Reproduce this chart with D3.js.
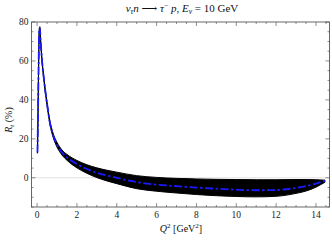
<!DOCTYPE html>
<html>
<head>
<meta charset="utf-8">
<script src="https://cdn.jsdelivr.net/npm/d3@7"></script>
<style>
  html, body { margin: 0; padding: 0; background: #fff; }
  svg { display: block; font-family: "Liberation Serif", "DejaVu Serif", serif; }
</style>
</head>
<body>
<div id="chart"></div>
<script>
// Q^2 points (GeV^2) and R_t (%)
const q2 = [0.02, 0.05, 0.08, 0.11, 0.14, 0.18, 0.25, 0.35, 0.5, 0.65, 0.8, 1.0, 1.25, 1.5, 2.0, 2.5, 3.0, 3.5, 4.0, 5.0, 6.0, 7.0, 8.0, 9.0, 10.0, 11.0, 12.0, 13.0, 13.5, 14.0, 14.45];
const rtCentral = [13, 35, 60, 76, 77, 70, 60, 50, 38, 28, 22, 17, 13, 10.5, 7, 4.5, 2.6, 1.2, 0, -2.2, -3.5, -4.3, -5.0, -5.6, -6.1, -6.4, -6.3, -5.2, -4.3, -3.0, -1.5];
const rtLow = [12.6, 34.4, 59.4, 75.4, 76.4, 69.3, 59.3, 49.2, 37.1, 27.1, 21.0, 15.8, 11.7, 9.0, 5.1, 2.3, 0.1, -1.6, -3.0, -5.6, -6.9, -7.8, -8.6, -9.2, -9.6, -9.8, -9.5, -8.0, -6.8, -4.8, -2.3];
const rtHigh = [13.4, 35.6, 60.6, 76.6, 77.6, 70.7, 60.7, 50.8, 38.9, 28.9, 23.0, 18.2, 14.3, 12.0, 8.9, 6.7, 5.1, 3.9, 2.9, 1.1, 0.2, -0.3, -0.6, -0.8, -0.9, -1.0, -1.0, -0.9, -0.9, -1.0, -1.2];

const xMajor = [0, 2, 4, 6, 8, 10, 12, 14];
const yMajor = [0, 20, 40, 60, 80];

const width = 332, height = 241;
const svg = d3.select('#chart')
    .append('svg')
    .attr('width', width)
    .attr('height', height);

const x = d3.scaleLinear().domain([-0.28, 14.68]).range([31.5, 329.5]);
const y = d3.scaleLinear().domain([-15, 80]).range([207, 22]);

const rows = q2.map((q, i) => ({ q, c: rtCentral[i], lo: rtLow[i], hi: rtHigh[i] }));

// zero grid line
svg.append('line')
    .attr('x1', x.range()[0]).attr('x2', x.range()[1])
    .attr('y1', y(0)).attr('y2', y(0))
    .attr('stroke', '#d9d9d9')
    .attr('stroke-width', 0.8);

svg.append('clipPath').attr('id', 'clip')
    .append('rect')
    .attr('x', x.range()[0]).attr('y', y.range()[1])
    .attr('width', x.range()[1] - x.range()[0])
    .attr('height', y.range()[0] - y.range()[1]);

const plot = svg.append('g').attr('clip-path', 'url(#clip)');

// uncertainty band
plot.append('path')
    .datum(rows)
    .attr('d', d3.area()
        .curve(d3.curveMonotoneX)
        .x(d => x(d.q))
        .y0(d => y(d.lo))
        .y1(d => y(d.hi)))
    .attr('fill', '#000')
    .attr('stroke', '#000')
    .attr('stroke-width', 1);

// central curve, dash-dot
plot.append('path')
    .datum(rows)
    .attr('d', d3.line()
        .curve(d3.curveMonotoneX)
        .x(d => x(d.q))
        .y(d => y(d.c)))
    .attr('fill', 'none')
    .attr('stroke', '#1a1aff')
    .attr('stroke-width', 1.8)
    .attr('stroke-dasharray', '8,2.5,2.5,2.5');

// frame
const frameColor = '#444';
svg.append('rect')
    .attr('x', x.range()[0]).attr('y', y.range()[1])
    .attr('width', x.range()[1] - x.range()[0])
    .attr('height', y.range()[0] - y.range()[1])
    .attr('fill', 'none')
    .attr('stroke', frameColor)
    .attr('stroke-width', 0.8);

// ticks on all four sides (inward)
const xMinor = d3.range(0, 14.6, 0.5).filter(v => !xMajor.includes(v));
const yMinor = d3.range(-15, 80.1, 5).filter(v => !yMajor.includes(v));
const ticks = svg.append('g').attr('stroke', frameColor).attr('stroke-width', 0.6);

[[xMajor, 4], [xMinor, 2]].forEach(([vals, len]) => {
    vals.forEach(v => {
        ticks.append('line').attr('x1', x(v)).attr('x2', x(v))
            .attr('y1', y.range()[0]).attr('y2', y.range()[0] - len);
        ticks.append('line').attr('x1', x(v)).attr('x2', x(v))
            .attr('y1', y.range()[1]).attr('y2', y.range()[1] + len);
    });
});
[[yMajor, 4], [yMinor, 2]].forEach(([vals, len]) => {
    vals.forEach(v => {
        ticks.append('line').attr('y1', y(v)).attr('y2', y(v))
            .attr('x1', x.range()[0]).attr('x2', x.range()[0] + len);
        ticks.append('line').attr('y1', y(v)).attr('y2', y(v))
            .attr('x1', x.range()[1]).attr('x2', x.range()[1] - len);
    });
});

// tick labels
svg.append('g').selectAll('text')
    .data(xMajor)
    .join('text')
    .attr('x', d => x(d))
    .attr('y', 218)
    .attr('text-anchor', 'middle')
    .style('font-size', '9.5px')
    .attr('fill', '#222')
    .text(d => d);

svg.append('g').selectAll('text')
    .data(yMajor)
    .join('text')
    .attr('x', 28.5)
    .attr('y', d => y(d) + 3.3)
    .attr('text-anchor', 'end')
    .style('font-size', '9.5px')
    .attr('fill', '#222')
    .text(d => d);

// title
const title = svg.append('text')
    .attr('x', 182)
    .attr('y', 12)
    .attr('text-anchor', 'middle')
    .style('font-size', '11px')
    .attr('fill', '#111');
title.append('tspan').style('font-style', 'italic').text('ν');
title.append('tspan').style('font-style', 'italic').style('font-size', '7.5px').attr('dy', 2).text('τ');
title.append('tspan').style('font-style', 'italic').attr('dy', -2).text('n');
title.append('tspan').text(' ⟶ ');
title.append('tspan').style('font-style', 'italic').text('τ');
title.append('tspan').style('font-size', '7.5px').attr('dy', -4).text('−');
title.append('tspan').style('font-style', 'italic').attr('dy', 4).text(' p');
title.append('tspan').text(', ');
title.append('tspan').style('font-style', 'italic').text('E');
title.append('tspan').style('font-style', 'italic').style('font-size', '7.5px').attr('dy', 2).text('ν');
title.append('tspan').attr('dy', -2).text(' = 10 GeV');

// x axis label
const xl = svg.append('text')
    .attr('x', 181)
    .attr('y', 232)
    .attr('text-anchor', 'middle')
    .style('font-size', '10px')
    .attr('fill', '#111');
xl.append('tspan').style('font-style', 'italic').text('Q');
xl.append('tspan').style('font-size', '7px').attr('dy', -4).text('2');
xl.append('tspan').attr('dy', 4).text(' [GeV');
xl.append('tspan').style('font-size', '7px').attr('dy', -4).text('2');
xl.append('tspan').attr('dy', 4).text(']');

// y axis label
const yl = svg.append('text')
    .attr('transform', 'translate(12,120) rotate(-90)')
    .attr('text-anchor', 'middle')
    .style('font-size', '10px')
    .attr('fill', '#111');
yl.append('tspan').style('font-style', 'italic').text('R');
yl.append('tspan').style('font-style', 'italic').style('font-size', '7px').attr('dy', 2).text('t');
yl.append('tspan').attr('dy', -2).text(' (%)');
</script>
</body>
</html>
